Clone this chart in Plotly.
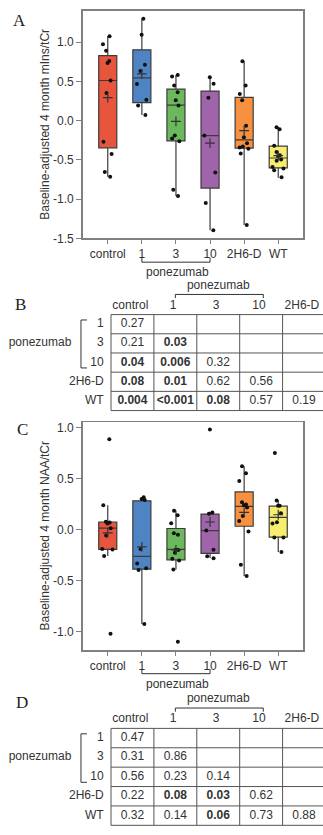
import plotly.graph_objects as go

W, H = 323, 835

# ---------------- data ----------------
groups = ["control", "1", "3", "10", "2H6-D", "WT"]
box_colors = ["#E6553C", "#4E84C4", "#6CB85C", "#A064AA", "#F79140", "#F7ED6E"]

# Panel A: baseline-adjusted 4 month mIns/tCr
mins_control = [1.076, 0.975, 0.891, 0.761, 0.736, 0.513, 0.353, -0.269, -0.425, -0.652, -0.715]
mins_p1 = [1.30, 1.097, 0.715, 0.634, 0.467, 0.269, 0.193, 0.072]
mins_p3 = [0.584, 0.563, 0.45, 0.362, 0.261, 0.193, -0.189, -0.227, -0.262, -0.879, -0.958]
mins_p10 = [0.555, 0.47, 0.294, -0.189, -0.66, -1.05, -1.396]
mins_2h6d = [0.757, 0.45, 0.34, 0.261, -0.063, -0.21, -0.286, -0.328, -0.34, -0.357, -0.416, -1.328]
mins_wt = [-0.084, -0.109, -0.32, -0.40, -0.44, -0.45, -0.495, -0.51, -0.59, -0.61, -0.63, -0.72]
mins_points = [mins_control, mins_p1, mins_p3, mins_p10, mins_2h6d, mins_wt]
mins_q1 = [-0.345, 0.231, -0.256, -0.858, -0.349, -0.601]
mins_median = [0.513, 0.546, 0.198, -0.189, -0.244, -0.475]
mins_q3 = [0.83, 0.904, 0.404, 0.378, 0.299, -0.324]
mins_lower = [-0.715, 0.072, -0.958, -1.396, -1.328, -0.727]
mins_upper = [1.076, 1.30, 0.584, 0.555, 0.757, -0.084]
mins_mean = [0.294, 0.597, -0.008, -0.286, -0.126, -0.445]
mins_ticks = [-1.5, -1.0, -0.5, 0.0, 0.5, 1.0]
mins_ticktext = ["-1.5", "-1.0", "-0.5", "0.0", "0.5", "1.0"]

# Panel C: baseline-adjusted 4 month NAA/tCr
naa_control = [0.885, 0.238, 0.077, 0.07, 0.06, 0.013, -0.058, -0.19, -0.196, -0.259, -1.021]
naa_p1 = [0.316, 0.30, 0.29, -0.19, -0.333, -0.378, -0.397, -0.924]
naa_p3 = [0.184, 0.141, 0.061, -0.036, -0.052, -0.198, -0.20, -0.227, -0.285, -0.304, -0.391, -1.10]
naa_p10 = [0.979, 0.168, 0.155, -0.01, -0.198, -0.262, -0.281]
naa_2h6d = [0.62, 0.552, 0.475, 0.267, 0.245, 0.238, 0.216, 0.132, 0.083, -0.019, -0.346, -0.455]
naa_wt = [0.749, 0.284, 0.232, 0.232, 0.16, 0.071, 0.058, -0.078, -0.078, -0.22]
naa_points = [naa_control, naa_p1, naa_p3, naa_p10, naa_2h6d, naa_wt]
naa_q1 = [-0.194, -0.388, -0.297, -0.233, 0.032, -0.075]
naa_median = [0.013, -0.262, -0.194, -0.01, 0.226, 0.119]
naa_q3 = [0.074, 0.281, 0.01, 0.151, 0.368, 0.229]
naa_lower = [-0.259, -0.924, -0.391, -0.278, -0.455, -0.22]
naa_upper = [0.238, 0.316, 0.187, 0.174, 0.62, 0.284]
naa_mean = [-0.033, -0.169, -0.20, 0.074, 0.168, 0.145]
naa_ticks = [-1.0, -0.5, 0.0, 0.5, 1.0]
naa_ticktext = ["-1.0", "-0.5", "0.0", "0.5", "1.0"]

# Tables of p-values
row_labels = ["1", "3", "10", "2H6-D", "WT"]
col_labels = ["control", "1", "3", "10", "2H6-D"]
pval_B = [["0.27"],
          ["0.21", "0.03"],
          ["0.04", "0.006", "0.32"],
          ["0.08", "0.01", "0.62", "0.56"],
          ["0.004", "&lt;0.001", "0.08", "0.57", "0.19"]]
bold_B = [[0], [0, 1], [1, 1, 0], [1, 1, 0, 0], [1, 1, 1, 0, 0]]
pval_D = [["0.47"],
          ["0.31", "0.86"],
          ["0.56", "0.23", "0.14"],
          ["0.22", "0.08", "0.03", "0.62"],
          ["0.32", "0.14", "0.06", "0.73", "0.88"]]
bold_D = [[0], [0, 0], [0, 0, 0], [0, 1, 1, 0], [0, 0, 1, 0, 0]]

# ---------------- style / layout helpers ----------------
SANS = "Liberation Sans, Arial, sans-serif"
SERIF = "Liberation Serif, Times New Roman, serif"
TXT = "#333333"
FRAME = "#808080"


def py(p):  # pixel row -> paper y
    return 1 - p / H


def px(p):  # pixel column -> paper x
    return p / W


PLOT_L, PLOT_R = 82.7, 303.3
A_T, A_B = 9.0, 239.0
C_T, C_B = 425.0, 655.5

fig = go.Figure()


def add_boxpanel(xa, ya, pts, q1, med, q3, lo, hi, mean):
    for i in range(len(groups)):
        fig.add_trace(go.Box(
            x=[i], q1=[q1[i]], median=[med[i]], q3=[q3[i]],
            lowerfence=[lo[i]], upperfence=[hi[i]],
            fillcolor=box_colors[i], line=dict(color="#3C3C3C", width=1.2),
            width=0.53, whiskerwidth=0, boxpoints=False,
            xaxis=xa, yaxis=ya, showlegend=False, hoverinfo="skip"))
    for i in range(len(groups)):
        fig.add_trace(go.Box(
            x=[i] * len(pts[i]), y=pts[i], boxpoints="all", jitter=0.75, pointpos=0,
            width=0.53, fillcolor="rgba(0,0,0,0)",
            line=dict(color="rgba(0,0,0,0)", width=0),
            marker=dict(color="#111111", size=4),
            xaxis=xa, yaxis=ya, showlegend=False, hoverinfo="skip"))
    fig.add_trace(go.Scatter(
        x=list(range(len(groups))), y=mean, mode="markers",
        marker=dict(symbol="cross-thin", size=7, line=dict(width=1.2, color="#333333")),
        xaxis=xa, yaxis=ya, showlegend=False, hoverinfo="skip"))


add_boxpanel("x", "y", mins_points, mins_q1, mins_median, mins_q3, mins_lower, mins_upper, mins_mean)
add_boxpanel("x2", "y2", naa_points, naa_q1, naa_median, naa_q3, naa_lower, naa_upper, naa_mean)

xaxis_common = dict(
    range=[-0.735, 5.735], tickmode="array", tickvals=list(range(len(groups))), ticktext=groups,
    ticks="outside", ticklen=4, tickcolor=FRAME, showline=True, linecolor=FRAME, linewidth=1.5,
    mirror=True, showgrid=False, zeroline=False, tickfont=dict(family=SANS, size=12, color=TXT),
    domain=[px(PLOT_L), px(PLOT_R)], fixedrange=True)
yaxis_common = dict(
    ticks="outside", ticklen=5, tickcolor=FRAME, showline=True, linecolor=FRAME, linewidth=1.5,
    mirror=True, showgrid=False, zeroline=False, tickfont=dict(family=SANS, size=12, color=TXT),
    fixedrange=True)

shapes = []
annotations = []


def note(text, x, y, xref="paper", yref="paper", size=12, family=SANS, color=TXT, angle=0):
    annotations.append(dict(text=text, x=x, y=y, xref=xref, yref=yref, showarrow=False,
                            xanchor="center", yanchor="middle", textangle=angle,
                            font=dict(family=family, size=size, color=color)))


def bracket_under(xref, line_px, label_px):
    shapes.append(dict(type="line", xref=xref, yref="paper", x0=1, x1=3,
                       y0=py(line_px), y1=py(line_px), line=dict(color="#333", width=1)))
    for xx in (1, 3):
        shapes.append(dict(type="line", xref=xref, yref="paper", x0=xx, x1=xx,
                           y0=py(line_px), y1=py(line_px - 4.5), line=dict(color="#333", width=1)))
    note("ponezumab", 2.05, py(label_px), xref=xref)


bracket_under("x", 263, 272.5)
bracket_under("x2", 679, 689)

note("Baseline-adjusted 4 month mIns/tCr", px(45), py((A_T + A_B) / 2), angle=-90)
note("Baseline-adjusted 4 month NAA/tCr", px(45), py((C_T + C_B) / 2), angle=-90)
note("A", px(19.5), py(18.5), size=17, family=SERIF, color="#222")
note("B", px(20), py(306), size=17, family=SERIF, color="#222")
note("C", px(22), py(432), size=17, family=SERIF, color="#222")
note("D", px(22), py(708), size=17, family=SERIF, color="#222")

# ---------------- tables ----------------
TBL_LEFT = 111.0
COL_W = 42.9
tbl_xrange = [(0 - TBL_LEFT) / COL_W, (W - TBL_LEFT) / COL_W]


def add_table(xa, ya, vals, bolds):
    xref, yref = xa, ya
    gl = dict(color="#555555", width=1)
    n = len(row_labels)
    for k in range(n + 1):
        shapes.append(dict(type="line", xref=xref, yref=yref, x0=k, x1=k, y0=0, y1=n, line=gl))
        shapes.append(dict(type="line", xref=xref, yref=yref, x0=0, x1=n, y0=k, y1=k, line=gl))
    # cell values
    xs, ys, ts = [], [], []
    for r, row in enumerate(vals):
        for c, v in enumerate(row):
            xs.append(c + 0.5)
            ys.append(r + 0.5)
            ts.append("<b>%s</b>" % v if bolds[r][c] else v)
    fig.add_trace(go.Scatter(x=xs, y=ys, text=ts, mode="text", textposition="middle center",
                             textfont=dict(family=SANS, size=12, color=TXT), cliponaxis=False,
                             xaxis=xa, yaxis=ya, showlegend=False, hoverinfo="skip"))
    # row labels
    fig.add_trace(go.Scatter(x=[-0.17] * n, y=[r + 0.5 for r in range(n)], text=row_labels,
                             mode="text", textposition="middle left",
                             textfont=dict(family=SANS, size=12, color=TXT), cliponaxis=False,
                             xaxis=xa, yaxis=ya, showlegend=False, hoverinfo="skip"))
    # column headers
    fig.add_trace(go.Scatter(x=[c + 0.45 for c in range(len(col_labels))], y=[-0.46] * len(col_labels),
                             text=col_labels, mode="text", textposition="middle center",
                             textfont=dict(family=SANS, size=12, color=TXT), cliponaxis=False,
                             xaxis=xa, yaxis=ya, showlegend=False, hoverinfo="skip"))
    # group labels
    fig.add_trace(go.Scatter(x=[-1.655, 2.5], y=[1.5, -1.5], text=["ponezumab", "ponezumab"],
                             mode="text", textposition="middle center",
                             textfont=dict(family=SANS, size=12, color=TXT), cliponaxis=False,
                             xaxis=xa, yaxis=ya, showlegend=False, hoverinfo="skip"))
    bl = dict(color="#333", width=1)
    # left bracket for ponezumab rows
    shapes.append(dict(type="line", xref=xref, yref=yref, x0=-0.70, x1=-0.70, y0=0.28, y1=2.78, line=bl))
    shapes.append(dict(type="line", xref=xref, yref=yref, x0=-0.70, x1=-0.56, y0=0.28, y1=0.28, line=bl))
    shapes.append(dict(type="line", xref=xref, yref=yref, x0=-0.70, x1=-0.56, y0=2.78, y1=2.78, line=bl))
    # top bracket over ponezumab columns
    shapes.append(dict(type="line", xref=xref, yref=yref, x0=1.5, x1=3.55, y0=-1.05, y1=-1.05, line=bl))
    shapes.append(dict(type="line", xref=xref, yref=yref, x0=1.5, x1=1.5, y0=-1.05, y1=-0.86, line=bl))
    shapes.append(dict(type="line", xref=xref, yref=yref, x0=3.55, x1=3.55, y0=-1.05, y1=-0.86, line=bl))


add_table("x3", "y3", pval_B, bold_B)
add_table("x4", "y4", pval_D, bold_D)

B_TOP, B_ROW = 316.0, 19.4
D_TOP, D_ROW = 734.3, 19.6
B_DOM = (280.0, 418.0)
D_DOM = (698.0, 835.0)

hidden = dict(visible=False, showgrid=False, zeroline=False, fixedrange=True)

fig.update_layout(
    width=W, height=H, autosize=False,
    margin=dict(l=0, r=0, t=0, b=0, pad=0),
    paper_bgcolor="white", plot_bgcolor="white",
    boxmode="overlay", showlegend=False,
    font=dict(family=SANS, size=12, color=TXT),
    xaxis=dict(xaxis_common, anchor="y"),
    yaxis=dict(yaxis_common, range=[-1.5, 1.40], tickmode="array", tickvals=mins_ticks,
               ticktext=mins_ticktext, domain=[py(A_B), py(A_T)], anchor="x"),
    xaxis2=dict(xaxis_common, anchor="y2"),
    yaxis2=dict(yaxis_common, range=[-1.184, 1.049], tickmode="array", tickvals=naa_ticks,
                ticktext=naa_ticktext, domain=[py(C_B), py(C_T)], anchor="x2"),
    xaxis3=dict(hidden, range=tbl_xrange, domain=[0, 1], anchor="y3"),
    yaxis3=dict(hidden, range=[(B_DOM[1] - B_TOP) / B_ROW, (B_DOM[0] - B_TOP) / B_ROW],
                domain=[py(B_DOM[1]), py(B_DOM[0])], anchor="x3"),
    xaxis4=dict(hidden, range=tbl_xrange, domain=[0, 1], anchor="y4"),
    yaxis4=dict(hidden, range=[(D_DOM[1] - D_TOP) / D_ROW, (D_DOM[0] - D_TOP) / D_ROW],
                domain=[py(D_DOM[1]), py(D_DOM[0])], anchor="x4"),
    shapes=shapes,
    annotations=annotations,
)

fig.write_html(
    "out.html",
    include_plotlyjs=True,
    full_html=True,
    config={"displayModeBar": False, "staticPlot": True},
    post_script="document.body.style.margin='0px';document.body.style.padding='0px';document.body.style.overflow='hidden';",
)
